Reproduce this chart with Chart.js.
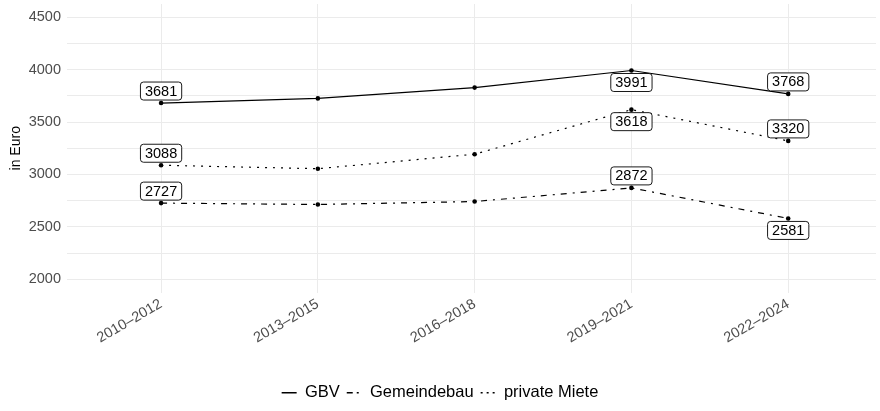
<!DOCTYPE html>
<html lang="de">
<head>
<meta charset="UTF-8">
<title>Wohnkosten</title>
<script src="https://cdn.jsdelivr.net/npm/chart.js@4.4.0/dist/chart.umd.min.js"></script>
<style>
  body { margin: 0; background: #fff; }
  .wrap { width: 880px; height: 411px; }
</style>
</head>
<body>
<div class="wrap"><canvas id="chart"></canvas></div>
<script>
const perioden = ['2010–2012', '2013–2015', '2016–2018', '2019–2021', '2022–2024'];
const gbv = [3681, 3725, 3828, 3991, 3768];
const gemeindebau = [2727, 2714, 2742, 2872, 2581];
const privateMiete = [3088, 3055, 3193, 3618, 3320];
const yTicks = [2000, 2500, 3000, 3500, 4000, 4500];

// welche Punkte beschriftet werden und auf welcher Seite
const gbvLabels = ['oben', null, null, 'unten', 'oben'];
const gemeindebauLabels = ['oben', null, null, 'oben', 'unten'];
const privateLabels = ['oben', null, null, 'unten', 'oben'];

const font = '"Liberation Sans", Arial, sans-serif';

function punkte(werte) {
  return werte.map((v, i) => ({ x: i, y: v }));
}

function serie(name, werte, dash, legendDash, labels) {
  return {
    label: name,
    data: punkte(werte),
    borderColor: '#000',
    backgroundColor: '#000',
    borderWidth: 1.2,
    borderDash: dash,
    pointRadius: 2.3,
    pointBorderWidth: 0,
    pointBackgroundColor: '#000',
    tension: 0,
    legendDash: legendDash,
    labelSeiten: labels
  };
}

// Wertkästchen wie bei geom_label
const wertLabels = {
  id: 'wertLabels',
  afterDatasetsDraw(chart) {
    const ctx = chart.ctx;
    ctx.save();
    ctx.font = '14.5px ' + font;
    ctx.textAlign = 'center';
    ctx.textBaseline = 'middle';
    chart.data.datasets.forEach((ds, di) => {
      const meta = chart.getDatasetMeta(di);
      ds.labelSeiten.forEach((seite, i) => {
        if (!seite) return;
        const p = meta.data[i];
        const txt = String(ds.data[i].y);
        const w = ctx.measureText(txt).width + 9;
        const h = 18;
        const top = seite === 'oben' ? p.y - 3 - h : p.y + 3;
        ctx.beginPath();
        ctx.roundRect(p.x - w / 2, top, w, h, 3);
        ctx.fillStyle = '#fff';
        ctx.fill();
        ctx.lineWidth = 0.9;
        ctx.strokeStyle = '#000';
        ctx.stroke();
        ctx.fillStyle = '#000';
        ctx.fillText(txt, p.x, top + h / 2 + 0.5);
      });
    });
    ctx.restore();
  }
};

new Chart(document.getElementById('chart'), {
  type: 'line',
  data: {
    datasets: [
      serie('GBV', gbv, [], [], gbvLabels),
      serie('Gemeindebau', gemeindebau, [6, 6, 2, 6], [6, 4, 2, 4], gemeindebauLabels),
      serie('private Miete', privateMiete, [2, 6], [2, 4], privateLabels)
    ]
  },
  options: {
    responsive: true,
    maintainAspectRatio: false,
    animation: false,
    layout: { padding: { top: 4, right: 0, bottom: 0, left: 0 } },
    scales: {
      x: {
        type: 'linear',
        min: -0.6,
        max: 4.56,
        afterBuildTicks: axis => { axis.ticks = perioden.map((p, i) => ({ value: i })); },
        afterFit: axis => {
          axis.height = 85;
          axis.paddingLeft = 0;
          axis.paddingRight = 0;
        },
        ticks: {
          autoSkip: false,
          minRotation: 30,
          maxRotation: 30,
          padding: 3,
          color: '#4d4d4d',
          font: { family: font, size: 14.5 },
          callback: v => perioden[v]
        },
        grid: { color: '#ebebeb', lineWidth: 1, drawTicks: false },
        border: { display: false }
      },
      y: {
        min: 1875,
        max: 4625,
        afterBuildTicks: axis => {
          const t = [];
          for (let v = 2000; v <= 4500; v += 250) t.push({ value: v });
          axis.ticks = t;
        },
        afterFit: axis => {
          axis.width = 67;
          axis.paddingTop = 0;
          axis.paddingBottom = 0;
        },
        ticks: {
          padding: 6,
          color: '#4d4d4d',
          font: { family: font, size: 14.5 },
          callback: v => yTicks.includes(v) ? String(v) : ''
        },
        grid: { color: '#ebebeb', lineWidth: 1, drawTicks: false },
        border: { display: false },
        title: {
          display: true,
          text: 'in Euro',
          color: '#000',
          font: { family: font, size: 14 },
          padding: { top: 8, bottom: 0 }
        }
      }
    },
    plugins: {
      tooltip: { enabled: false },
      legend: {
        position: 'bottom',
        labels: {
          color: '#000',
          font: { family: font, size: 16.5 },
          usePointStyle: true,
          pointStyle: 'line',
          pointStyleWidth: 15,
          boxHeight: 10,
          padding: 7,
          generateLabels: chart => chart.data.datasets.map((ds, i) => ({
            text: ds.label,
            datasetIndex: i,
            fillStyle: '#000',
            strokeStyle: '#000',
            fontColor: '#000',
            lineWidth: 1.3,
            lineDash: ds.legendDash,
            pointStyle: 'line',
            hidden: false
          }))
        }
      }
    }
  },
  plugins: [wertLabels]
});
</script>
</body>
</html>
